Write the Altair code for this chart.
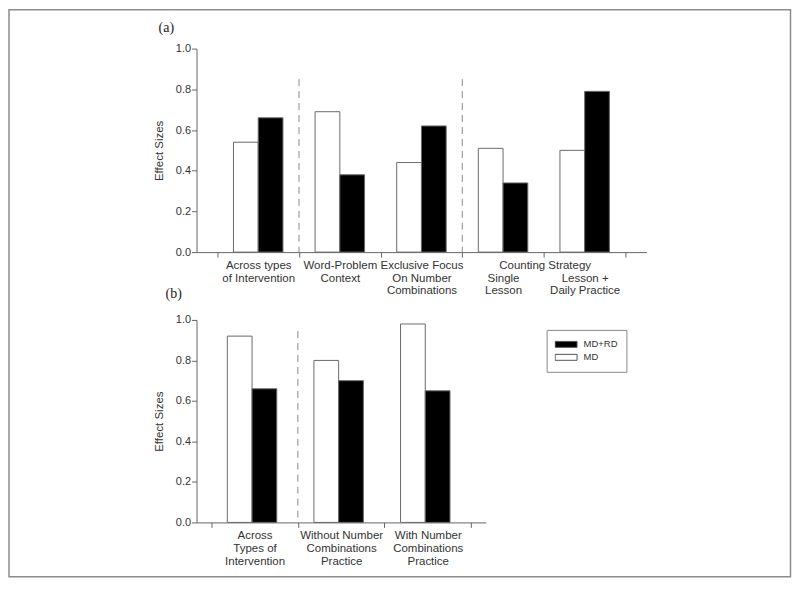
import altair as alt
import pandas as pd

# ---------------- data ----------------
series_order = ["MD", "MD+RD"]
legend_order = ["MD+RD", "MD"]

cats_a = [
    "Across types\nof Intervention",
    "Word-Problem\nContext",
    "Exclusive Focus\nOn Number\nCombinations",
    "Single\nLesson",
    "Lesson +\nDaily Practice",
]
md_a = [0.54, 0.69, 0.44, 0.51, 0.50]
mdrd_a = [0.66, 0.38, 0.62, 0.34, 0.79]
sep_a = ["Word-Problem\nContext", "Single\nLesson"]
sep_top_a = [0.85, 0.85]

cats_b = [
    "Across\nTypes of\nIntervention",
    "Without Number\nCombinations\nPractice",
    "With Number\nCombinations\nPractice",
]
md_b = [0.92, 0.80, 0.98]
mdrd_b = [0.66, 0.70, 0.65]
sep_b = ["Without Number\nCombinations\nPractice"]
sep_top_b = [0.945]

y_ticks = [0.0, 0.2, 0.4, 0.6, 0.8, 1.0]

FONT = "Liberation Sans"
TXT = "#333333"
LINE = "#666666"

LABEL_EXPR = (
    "indexof(datum.label, 'Lesson') >= 0 ? "
    "split('\\n' + datum.label, '\\n') : split(datum.label, '\\n')"
)


def long_table(cats, md, mdrd):
    rows = []
    for c, a, b in zip(cats, md, mdrd):
        rows.append({"cat": c, "series": "MD", "value": a})
        rows.append({"cat": c, "series": "MD+RD", "value": b})
    return pd.DataFrame(rows)


def panel(cats, md, mdrd, sep, sep_top, width, height, pad_outer, title, title_dx,
          title_offset, x_title, legend, extra_layers=()):
    df = long_table(cats, md, mdrd)
    sdf = pd.DataFrame({"cat": sep, "top": sep_top})
    xscale = alt.Scale(domain=cats, paddingInner=0, paddingOuter=pad_outer)
    x_axis_kw = dict(
        tickBand="extent",
        labelExpr=LABEL_EXPR,
        labelAngle=0,
        labelLineHeight=13,
        labelFontSize=11.5,
        labelFont=FONT,
        labelColor=TXT,
        labelBaseline="top",
        labelPadding=2,
        tickSize=5,
        tickColor=LINE,
        domainColor=LINE,
    )
    if x_title:
        x_axis_kw.update(
            title=x_title,
            titleX=349,
            titleY=13.5,
            titleBaseline="middle",
            titleAlign="center",
            titleAngle=0,
            titleFontWeight="normal",
            titleFontSize=11.5,
            titleFont=FONT,
            titleColor=TXT,
        )
    else:
        x_axis_kw.update(title=None)
    xaxis = alt.Axis(**x_axis_kw)
    yaxis = alt.Axis(
        values=y_ticks,
        format=".1f",
        title="Effect Sizes",
        tickSize=5,
        labelPadding=1,
        titlePadding=11,
        titleFontWeight="normal",
        titleFontSize=11.5,
        titleFont=FONT,
        titleColor=TXT,
        labelFontSize=11,
        labelFont=FONT,
        labelColor=TXT,
        domainColor=LINE,
        tickColor=LINE,
    )
    yscale = alt.Scale(domain=[0, 1])
    fill_scale = alt.Scale(domain=legend_order, range=["#000000", "#ffffff"])

    bars = alt.Chart(df).mark_bar(stroke="#6a6a6a", strokeWidth=1).encode(
        x=alt.X("cat:N", scale=xscale, axis=xaxis, sort=cats),
        xOffset=alt.XOffset(
            "series:N",
            scale=alt.Scale(domain=series_order, paddingInner=0, paddingOuter=0.65),
        ),
        y=alt.Y("value:Q", scale=yscale, axis=yaxis),
        fill=alt.Fill("series:N", scale=fill_scale, legend=legend),
    )
    seps = alt.Chart(sdf).mark_rule(color="#8a8a8a", strokeWidth=1, strokeDash=[7, 5]).encode(
        x=alt.X("cat:N", scale=xscale, axis=xaxis, bandPosition=0, sort=cats),
        y=alt.Y("top:Q", scale=yscale, axis=yaxis),
        y2=alt.datum(0),
    )
    return alt.layer(*extra_layers, bars, seps).properties(
        width=width,
        height=height,
        title=alt.TitleParams(
            title,
            anchor="start",
            frame="group",
            dx=title_dx,
            offset=title_offset,
            font="Liberation Serif",
            fontSize=14,
            fontWeight="normal",
            color="#222222",
        ),
    )


legend_b = alt.Legend(
    title=None,
    orient="none",
    legendX=351,
    legendY=10,
    symbolType="M-1,-0.27L1,-0.27L1,0.27L-1,0.27Z",
    symbolSize=484,
    symbolStrokeColor="#555555",
    symbolStrokeWidth=1,
    labelFontSize=9.5,
    labelFont=FONT,
    labelColor=TXT,
    labelOffset=6,
    strokeColor="#888888",
    fillColor="#ffffff",
    padding=8,
    clipHeight=13,
    rowPadding=0,
)

# decorative outer frame around the whole figure (drawn in panel (a)'s space)
frame = alt.Chart(pd.DataFrame({"k": [0]})).mark_rect(
    filled=False, color="#8c8c8c", strokeWidth=1.5
).encode(
    x=alt.value(-188), x2=alt.value(595.5), y=alt.value(-39), y2=alt.value(529.5)
)

pa = panel(cats_a, md_a, mdrd_a, sep_a, sep_top_a, 451, 204, 0.256, "(a)", -38, -26,
           "Counting Strategy", None, extra_layers=(frame,))
pb = panel(cats_b, md_b, mdrd_b, sep_b, sep_top_b, 290, 203, 0.17, "(b)", -31, 13,
           None, legend_b)

chart = (
    alt.vconcat(pa, pb, spacing=68, bounds="flush")
    .resolve_scale(fill="independent")
    .properties(padding=0)
    .configure_view(stroke=None)
    .configure_axis(grid=False)
)

chart.save("out.html", embed_options={"renderer": "svg", "actions": False})
